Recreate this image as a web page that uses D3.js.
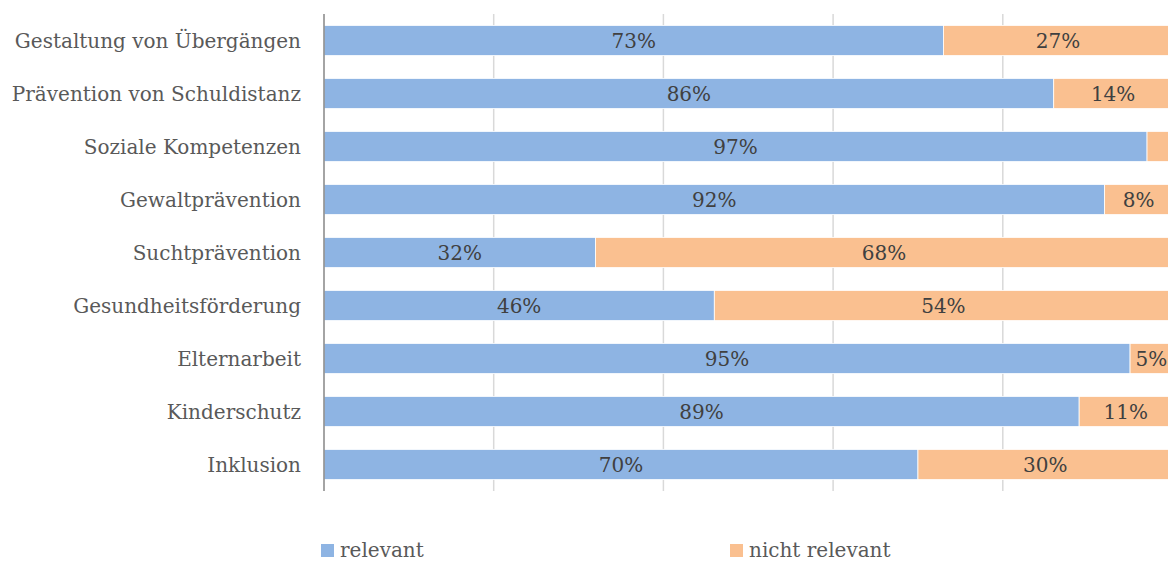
<!DOCTYPE html>
<html>
<head>
<meta charset="utf-8">
<script src="https://cdn.jsdelivr.net/npm/d3@7"></script>
<style>
	body { margin: 0; background: #fff; }
	svg { display: block; }
	svg text { font-family: "DejaVu Serif", "Liberation Serif", serif; fill: #595959; }
	svg text.seg { fill: #404040; }
</style>
</head>
<body>
<svg id="chart"></svg>
<script>
// Data
var categories = ["Gestaltung von Übergängen", "Prävention von Schuldistanz", "Soziale Kompetenzen",
	"Gewaltprävention", "Suchtprävention", "Gesundheitsförderung", "Elternarbeit", "Kinderschutz", "Inklusion"];
var relevant = [73, 86, 97, 92, 32, 46, 95, 89, 70];
var nichtRelevant = [27, 14, 3, 8, 68, 54, 5, 11, 30];
var seriesNames = ["relevant", "nicht relevant"];
var gridTicks = [0, 20, 40, 60, 80, 100];

var width = 1168,
	height = 561;

var colors = ["#8eb4e3", "#fac090"];

var svg = d3.select("#chart")
	.attr("width", width)
	.attr("height", height);

var x = d3.scaleLinear().domain([0, 100]).range([324, 1172.5]);
var y = d3.scaleBand().domain(categories).range([14, 491]).paddingInner(0.43).paddingOuter(0.215);

// Gridlines
svg.append("g")
	.selectAll("line")
	.data(gridTicks.slice(1))
	.enter()
		.append("line")
			.attr("x1", function(d){ return x(d); })
			.attr("x2", function(d){ return x(d); })
			.attr("y1", 14)
			.attr("y2", 491)
			.attr("stroke", "#d9d9d9")
			.attr("stroke-width", 1.5);

// Segments
var segs = d3.merge(categories.map(function(c, i){
	return [
		{cat: c, x0: 0, x1: relevant[i], v: relevant[i], s: 0},
		{cat: c, x0: relevant[i], x1: relevant[i] + nichtRelevant[i], v: nichtRelevant[i], s: 1}
	];
}));

svg.append("g")
	.selectAll("rect")
	.data(segs)
	.enter()
		.append("rect")
			.attr("x", function(d){ return x(d.x0); })
			.attr("width", function(d){ return x(d.x1) - x(d.x0); })
			.attr("y", function(d){ return y(d.cat); })
			.attr("height", y.bandwidth())
			.attr("fill", function(d){ return colors[d.s]; })
			.attr("stroke", "#fff")
			.attr("stroke-width", 0.8);

// Segment labels (too narrow segments get none)
svg.append("g")
	.selectAll("text")
	.data(segs.filter(function(d){ return d.v >= 4; }))
	.enter()
		.append("text")
			.classed("seg", true)
			.attr("x", function(d){ return (x(d.x0) + x(d.x1)) / 2; })
			.attr("y", function(d){ return y(d.cat) + y.bandwidth() / 2; })
			.attr("dy", "0.36em")
			.attr("text-anchor", "middle")
			.style("font-size", "20px")
			.text(function(d){ return d.v + "%"; });

// Axis
svg.append("line")
	.attr("x1", x(0)).attr("x2", x(0))
	.attr("y1", 14).attr("y2", 491)
	.attr("stroke", "#868686")
	.attr("stroke-width", 1.5);

svg.append("g")
	.selectAll("text")
	.data(categories)
	.enter()
		.append("text")
			.attr("x", 301)
			.attr("y", function(d){ return y(d) + y.bandwidth() / 2; })
			.attr("dy", "0.36em")
			.attr("text-anchor", "end")
			.style("font-size", "20px")
			.text(function(d){ return d; });

// Legend
var legendX = [321, 730];
var legend = svg.append("g")
	.selectAll("g")
	.data(seriesNames)
	.enter()
		.append("g")
			.attr("transform", function(d, i){ return "translate(" + legendX[i] + ",544)"; });

legend.append("rect")
	.attr("width", 13)
	.attr("height", 13)
	.attr("fill", function(d, i){ return colors[i]; });

legend.append("text")
	.attr("x", 19)
	.attr("y", 13)
	.style("font-size", "20px")
	.text(function(d){ return d; });
</script>
</body>
</html>
